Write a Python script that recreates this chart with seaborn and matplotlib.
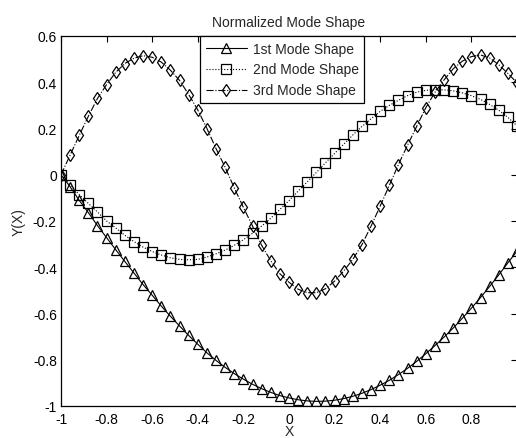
import numpy as np
import pandas as pd
import matplotlib
matplotlib.use("Agg")
import matplotlib.pyplot as plt
import seaborn as sns

# sample positions along the beam
x = [-1.00, -0.96, -0.92, -0.88, -0.84, -0.80, -0.76, -0.72, -0.68, -0.64,
     -0.60, -0.56, -0.52, -0.48, -0.44, -0.40, -0.36, -0.32, -0.28, -0.24,
     -0.20, -0.16, -0.12, -0.08, -0.04, 0.00, 0.04, 0.08, 0.12, 0.16,
     0.20, 0.24, 0.28, 0.32, 0.36, 0.40, 0.44, 0.48, 0.52, 0.56,
     0.60, 0.64, 0.68, 0.72, 0.76, 0.80, 0.84, 0.88, 0.92, 0.96, 1.00]

mode1 = [0.000, -0.052, -0.111, -0.164, -0.220, -0.272, -0.324, -0.375, -0.425, -0.475,
         -0.521, -0.568, -0.612, -0.654, -0.695, -0.733, -0.770, -0.803, -0.833, -0.860,
         -0.884, -0.906, -0.925, -0.941, -0.955, -0.965, -0.973, -0.978, -0.980, -0.979,
         -0.975, -0.968, -0.958, -0.945, -0.929, -0.910, -0.889, -0.864, -0.837, -0.807,
         -0.774, -0.739, -0.702, -0.663, -0.621, -0.577, -0.531, -0.483, -0.433, -0.381, -0.330]

mode2 = [0.000, -0.045, -0.086, -0.124, -0.161, -0.200, -0.230, -0.262, -0.289, -0.313,
         -0.332, -0.347, -0.359, -0.366, -0.368, -0.366, -0.356, -0.342, -0.326, -0.305,
         -0.281, -0.253, -0.222, -0.188, -0.150, -0.112, -0.071, -0.031, 0.010, 0.052,
         0.092, 0.132, 0.172, 0.209, 0.242, 0.274, 0.300, 0.322, 0.342, 0.357,
         0.365, 0.368, 0.367, 0.363, 0.354, 0.342, 0.326, 0.304, 0.279, 0.248, 0.212]

mode3 = [0.000, 0.085, 0.170, 0.253, 0.330, 0.390, 0.443, 0.481, 0.504, 0.515,
         0.508, 0.487, 0.452, 0.408, 0.347, 0.280, 0.200, 0.113, 0.032, -0.057,
         -0.141, -0.222, -0.305, -0.372, -0.428, -0.465, -0.495, -0.510, -0.510, -0.493,
         -0.460, -0.416, -0.366, -0.302, -0.222, -0.135, -0.046, 0.044, 0.128, 0.209,
         0.290, 0.356, 0.410, 0.458, 0.491, 0.511, 0.518, 0.505, 0.476, 0.438, 0.398]

labels = ["1st Mode Shape", "2nd Mode Shape", "3rd Mode Shape"]
xticks = [-1, -0.8, -0.6, -0.4, -0.2, 0, 0.2, 0.4, 0.6, 0.8, 1]
# the "1" at the right edge falls outside the picture in the original
xticklabels = ["-1", "-0.8", "-0.6", "-0.4", "-0.2", "0", "0.2", "0.4", "0.6", "0.8", ""]
yticks = [-1, -0.8, -0.6, -0.4, -0.2, 0, 0.2, 0.4, 0.6]
yticklabels = ["-1", "-0.8", "-0.6", "-0.4", "-0.2", "0", "0.2", "0.4", "0.6"]

sns.set_style("white")
plt.rcParams["font.family"] = ["Liberation Sans", "DejaVu Sans"]
plt.rcParams["axes.unicode_minus"] = False

fig = plt.figure(figsize=(5.16, 4.39), dpi=100)
ax = fig.add_axes([61 / 516, 32 / 439, 456 / 516, 370 / 439])

styles = [("-", "^", 7.5), (":", "s", 7), ("-.", "d", 6.5)]
for ys, lab, (ls, mk, ms) in zip([mode1, mode2, mode3], labels, styles):
    sns.lineplot(x=x, y=ys, ax=ax, color="black", linestyle=ls, linewidth=0.8,
                 marker=mk, markersize=ms, markerfacecolor="none",
                 markeredgecolor="black", markeredgewidth=0.9, label=lab)

ax.set_xlim(-1, 1)
ax.set_ylim(-1, 0.6)
ax.set_xticks(xticks)
ax.set_xticklabels(xticklabels)
ax.set_yticks(yticks)
ax.set_yticklabels(yticklabels)
ax.tick_params(direction="in", length=4, width=0.8, top=True, right=True,
               labelsize=10, colors="black")
ax.tick_params(axis="y", pad=3)
ax.tick_params(axis="x", pad=4)
for sp in ax.spines.values():
    sp.set_color("black")
    sp.set_linewidth(0.9)

ax.set_title("Normalized Mode Shape", fontsize=10, pad=7)
ax.set_ylabel("Y(X)", fontsize=10, labelpad=5)
ax.set_xlabel("X", fontsize=10)
ax.xaxis.set_label_coords(0.5, -0.05)

leg = ax.legend(loc="upper left", bbox_to_anchor=(0.305, 1.0), borderaxespad=0,
                fontsize=10, handlelength=3.0, handletextpad=0.4, labelspacing=0.5,
                borderpad=0.4, fancybox=False, framealpha=1)
leg.get_frame().set_edgecolor("black")
leg.get_frame().set_linewidth(0.9)

fig.savefig("out.png", dpi=100)
